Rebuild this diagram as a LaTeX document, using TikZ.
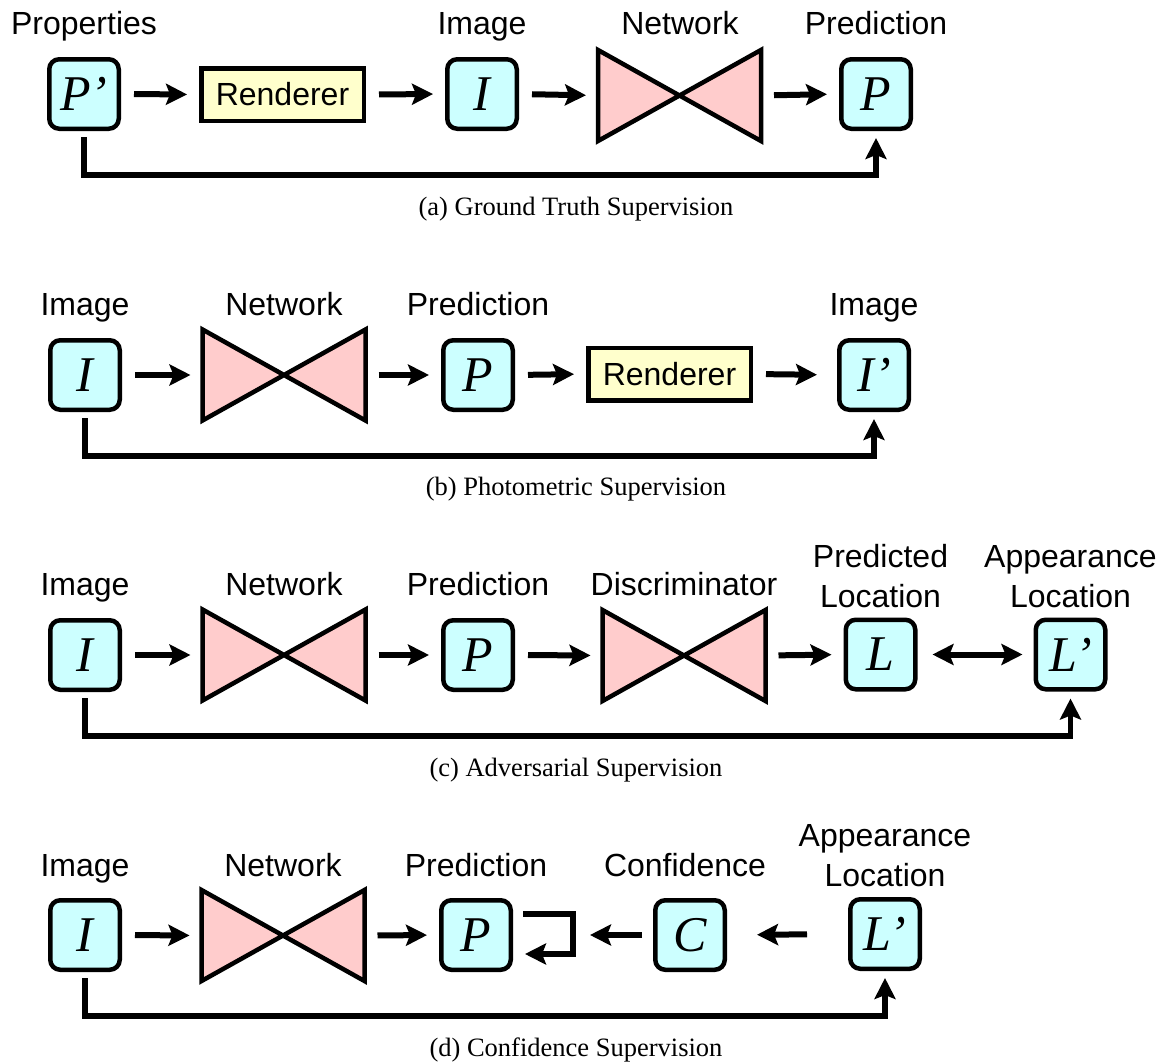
\documentclass[tikz,border=0pt]{standalone}
\usepackage{fontspec}
\setmainfont{Liberation Serif}
\newfontfamily\labelfont{Liberation Sans}
\usetikzlibrary{arrows.meta,calc}
\definecolor{boxcyan}{HTML}{CCFFFF}
\definecolor{rendyellow}{HTML}{FFFFCC}
\definecolor{netpink}{HTML}{FFCCCC}
\begin{document}
\begin{tikzpicture}[x=1pt,y=-1pt,
  varbox/.style={draw, line width=4.5pt, rounded corners=10pt, fill=boxcyan,
    minimum width=69.5pt, minimum height=69.5pt, inner sep=0pt,
    font=\fontsize{50}{50}\selectfont\itshape},
  rendbox/.style={draw, line width=4.5pt, fill=rendyellow, minimum width=162.5pt,
    minimum height=52.5pt, inner sep=0pt, font=\labelfont\fontsize{32}{40}\selectfont},
  netarea/.style={minimum width=163pt, minimum height=91pt, inner sep=0pt, outer sep=0pt},
  bowtie/.style={draw, line width=4.5pt, fill=netpink, line join=miter},
  lbl/.style={inner sep=0pt, anchor=base, font=\labelfont\fontsize{32}{40}\selectfont},
  lbltwo/.style={inner sep=0pt, anchor=south, align=center, font=\labelfont\fontsize{32}{40}\selectfont},
  captext/.style={inner sep=0pt, anchor=base, font=\fontsize{26.5}{32}\selectfont},
  mytip/.tip={Stealth[length=21pt,width=21pt,inset=4pt]},
  arr/.style={line width=6pt, -mytip, shorten <=13pt, shorten >=12pt},
  dblarr/.style={line width=6pt, mytip-mytip},
  conn/.style={line width=5.5pt, line join=miter, -mytip},
]
\useasboundingbox (0,0) rectangle (1165,1063);

% ---------------- (a)
\node[varbox] (ppA) at (84,94) {P’};
\node[rendbox] (rendA) at (282.5,94.5) {Renderer};
\node[varbox] (iA) at (482,94) {I};
\node[netarea] (netA) at (679.5,95.5) {};
\node[varbox] (pA) at (876,94) {P};
\draw[bowtie] (netA.north west) -- (netA.south east) -- (netA.north east) -- (netA.south west) -- cycle;
\node[lbl] (lbA1) at (84,34) {Properties};
\node[lbl] (lbA2) at (482,34) {Image};
\node[lbl] (lbA3) at (680,34) {Network};
\node[lbl] (lbA4) at (876,34) {Prediction};
\draw[arr] (ppA.east) -- (rendA.west);
\draw[arr] (rendA.east) -- (iA.west);
\draw[arr] (iA.east) -- (netA.west);
\draw[arr] (netA.east) -- (pA.west);
\draw[conn] ([yshift=-6pt]ppA.south) -- ++(0,38) -| ([yshift=-7pt]pA.south);
\node[captext] (capA) at (576,215) {(a) Ground Truth Supervision};

% ---------------- (b)
\node[varbox] (iB) at (85,375) {I};
\node[netarea] (netB) at (284,375) {};
\node[varbox] (pB) at (478,375) {P};
\node[rendbox] (rendB) at (669.5,374) {Renderer};
\node[varbox] (ipB) at (874,375) {I’};
\draw[bowtie] (netB.north west) -- (netB.south east) -- (netB.north east) -- (netB.south west) -- cycle;
\node[lbl] (lbB1) at (85,315) {Image};
\node[lbl] (lbB2) at (284,315) {Network};
\node[lbl] (lbB3) at (478,315) {Prediction};
\node[lbl] (lbB4) at (874,315) {Image};
\draw[arr] (iB.east) -- (netB.west);
\draw[arr] (netB.east) -- (pB.west);
\draw[arr] (pB.east) -- (rendB.west);
\draw[arr, shorten >=20pt] (rendB.east) -- (ipB.west);
\draw[conn] ([yshift=-6pt]iB.south) -- ++(0,38) -| ([yshift=-7pt]ipB.south);
\node[captext] (capB) at (576,495.5) {(b) Photometric Supervision};

% ---------------- (c)
\node[varbox] (iC) at (85,655) {I};
\node[netarea] (netC) at (284,655) {};
\node[varbox] (pC) at (478,655) {P};
\node[netarea] (discC) at (684,655.5) {};
\node[varbox] (lC) at (880.5,654.5) {L};
\node[varbox] (lpC) at (1070.5,654.5) {L’};
\draw[bowtie] (netC.north west) -- (netC.south east) -- (netC.north east) -- (netC.south west) -- cycle;
\draw[bowtie] (discC.north west) -- (discC.south east) -- (discC.north east) -- (discC.south west) -- cycle;
\node[lbl] (lbC1) at (85,595) {Image};
\node[lbl] (lbC2) at (284,595) {Network};
\node[lbl] (lbC3) at (478,595) {Prediction};
\node[lbl] (lbC4) at (684,595) {Discriminator};
\node[lbltwo] (lbC5) at (880.5,608) {Predicted\\Location};
\node[lbltwo] (lbC6) at (1070.5,608) {Appearance\\Location};
\draw[arr] (iC.east) -- (netC.west);
\draw[arr] (netC.east) -- (pC.west);
\draw[arr] (pC.east) -- (discC.west);
\draw[arr] (discC.east) -- (lC.west);
\draw[dblarr, shorten <=15pt, shorten >=11pt] (lC.east) -- (lpC.west);
\draw[conn] ([yshift=-6pt]iC.south) -- ++(0,38) -| ([yshift=-7pt]lpC.south);
\node[captext] (capC) at (576,776) {(c) Adversarial Supervision};

% ---------------- (d)
\node[varbox] (iD) at (85,935) {I};
\node[netarea] (netD) at (283,935.5) {};
\node[varbox] (pD) at (476,935) {P};
\node[varbox] (cD) at (690,935) {C};
\node[varbox] (lpD) at (885,934) {L’};
\draw[bowtie] (netD.north west) -- (netD.south east) -- (netD.north east) -- (netD.south west) -- cycle;
\node[lbl] (lbD1) at (85,876) {Image};
\node[lbl] (lbD2) at (283,876) {Network};
\node[lbl] (lbD3) at (476,876) {Prediction};
\node[lbl] (lbD4) at (685,876) {Confidence};
\node[lbltwo] (lbD5) at (885,887) {Appearance\\Location};
\draw[arr] (iD.east) -- (netD.west);
\draw[arr] (netD.east) -- (pD.west);
\draw[conn, line width=6pt] ([shift={(10,-21)}]pD.east) -- ++(50,0) -- ++(0,40) -- ++(-48,0);
\draw[arr, shorten <=11pt, shorten >=77pt] (cD.west) -- (pD.east);
\draw[arr, shorten <=41pt, shorten >=30pt] (lpD.west) -- (cD.east);
\draw[conn] ([yshift=-6pt]iD.south) -- ++(0,38) -| ([yshift=-7pt]lpD.south);
\node[captext] (capD) at (576,1056) {(d) Confidence Supervision};
\end{tikzpicture}
\end{document}
